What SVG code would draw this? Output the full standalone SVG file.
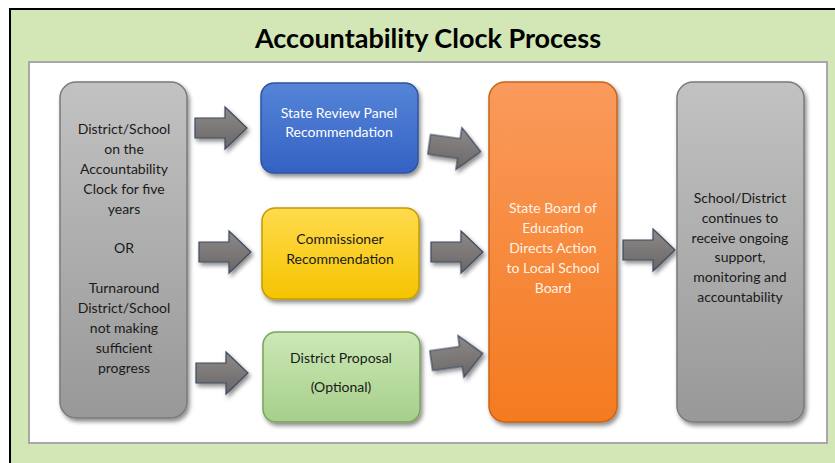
<svg xmlns="http://www.w3.org/2000/svg" width="835" height="463" viewBox="0 0 835 463">
<defs>
<style>
.t{font-family:Lato,"Open Sans","Liberation Sans",sans-serif;font-size:14px;text-anchor:middle}
.dk{fill:#1a1a1a}
.wt{fill:#ffffff}
.or{fill:#fff3e6}
.arr{fill:url(#ga);stroke:#3d4c60;stroke-width:1.2;filter:url(#sh)}
</style>
<filter id="sh" x="-20%" y="-20%" width="140%" height="140%">
<feDropShadow dx="2" dy="3" stdDeviation="2" flood-color="#000" flood-opacity="0.45"/>
</filter>
<linearGradient id="gg" x1="0" y1="0" x2="0" y2="1"><stop offset="0" stop-color="#c2c2c2"/><stop offset="1" stop-color="#989898"/></linearGradient>
<linearGradient id="gb" x1="0" y1="0" x2="0" y2="1"><stop offset="0" stop-color="#5584d8"/><stop offset="1" stop-color="#3462c4"/></linearGradient>
<linearGradient id="gy" x1="0" y1="0" x2="0" y2="1"><stop offset="0" stop-color="#ffdb4d"/><stop offset="1" stop-color="#f5c400"/></linearGradient>
<linearGradient id="gn" x1="0" y1="0" x2="0" y2="1"><stop offset="0" stop-color="#cce8b6"/><stop offset="1" stop-color="#a6cf8a"/></linearGradient>
<linearGradient id="go" x1="0" y1="0" x2="0" y2="1"><stop offset="0" stop-color="#fa9a5c"/><stop offset="1" stop-color="#f47a1f"/></linearGradient>
<linearGradient id="ga" x1="0" y1="0" x2="0" y2="1"><stop offset="0" stop-color="#8e8a8a"/><stop offset="1" stop-color="#6a6666"/></linearGradient>
<path id="arrow" d="M -26,-10 L 4,-10 L 4,-21 L 26,0 L 4,21 L 4,10 L -26,10 Z"/>
</defs>
<rect x="0" y="0" width="835" height="463" fill="#ffffff"/>
<rect x="10" y="9" width="830" height="460" fill="#d3e7b6" stroke="#000" stroke-width="2"/>
<text x="428" y="48" style="font-family:Lato,'Open Sans','Liberation Sans',sans-serif;font-size:27px;font-weight:bold;text-anchor:middle" fill="#000">Accountability Clock Process</text>
<rect x="29" y="62" width="798" height="381" fill="#ffffff" stroke="#a8a8a8" stroke-width="2"/>

<g id="connectors">
<use href="#arrow" class="arr" transform="translate(221,128)"/>
<use href="#arrow" class="arr" transform="translate(225,252)"/>
<use href="#arrow" class="arr" transform="translate(222,373)"/>
<use href="#arrow" class="arr" transform="translate(455,148) rotate(8)"/>
<use href="#arrow" class="arr" transform="translate(457,252)"/>
<use href="#arrow" class="arr" transform="translate(457,357) rotate(-8)"/>
<use href="#arrow" class="arr" transform="translate(649,250)"/>
</g>

<g id="start">
<rect x="60" y="82" width="127" height="336" rx="16" fill="url(#gg)" stroke="#7a7a7a" stroke-width="1.5" filter="url(#sh)"/>
<text class="t dk" x="124" y="134">District/School</text>
<text class="t dk" x="124" y="154">on the</text>
<text class="t dk" x="124" y="174">Accountability</text>
<text class="t dk" x="124" y="194">Clock for five</text>
<text class="t dk" x="124" y="214">years</text>
<text class="t dk" x="124" y="253">OR</text>
<text class="t dk" x="124" y="293">Turnaround</text>
<text class="t dk" x="124" y="313">District/School</text>
<text class="t dk" x="124" y="333">not making</text>
<text class="t dk" x="124" y="353">sufficient</text>
<text class="t dk" x="124" y="373">progress</text>
</g>

<g id="review">
<rect x="261" y="83" width="157" height="90" rx="13" fill="url(#gb)" stroke="#2c559e" stroke-width="1.5" filter="url(#sh)"/>
<text class="t wt" x="339" y="118">State Review Panel</text>
<text class="t wt" x="339" y="137">Recommendation</text>
</g>

<g id="commissioner">
<rect x="262" y="208" width="157" height="91" rx="13" fill="url(#gy)" stroke="#c49c00" stroke-width="1.5" filter="url(#sh)"/>
<text class="t dk" x="340" y="244">Commissioner</text>
<text class="t dk" x="340" y="264">Recommendation</text>
</g>

<g id="proposal">
<rect x="263" y="332" width="157" height="90" rx="13" fill="url(#gn)" stroke="#7aa45c" stroke-width="1.5" filter="url(#sh)"/>
<text class="t dk" x="341" y="363">District Proposal</text>
<text class="t dk" x="341" y="392">(Optional)</text>
</g>

<g id="board">
<rect x="489" y="82" width="128" height="340" rx="16" fill="url(#go)" stroke="#c86418" stroke-width="1.5" filter="url(#sh)"/>
<text class="t or" x="553" y="213">State Board of</text>
<text class="t or" x="553" y="233">Education</text>
<text class="t or" x="553" y="253">Directs Action</text>
<text class="t or" x="553" y="273">to Local School</text>
<text class="t or" x="553" y="293">Board</text>
</g>

<g id="outcome">
<rect x="677" y="82" width="127" height="340" rx="16" fill="url(#gg)" stroke="#7a7a7a" stroke-width="1.5" filter="url(#sh)"/>
<text class="t dk" x="740" y="203">School/District</text>
<text class="t dk" x="740" y="223">continues to</text>
<text class="t dk" x="740" y="243">receive ongoing</text>
<text class="t dk" x="740" y="262">support,</text>
<text class="t dk" x="740" y="282">monitoring and</text>
<text class="t dk" x="740" y="302">accountability</text>
</g>
</svg>
